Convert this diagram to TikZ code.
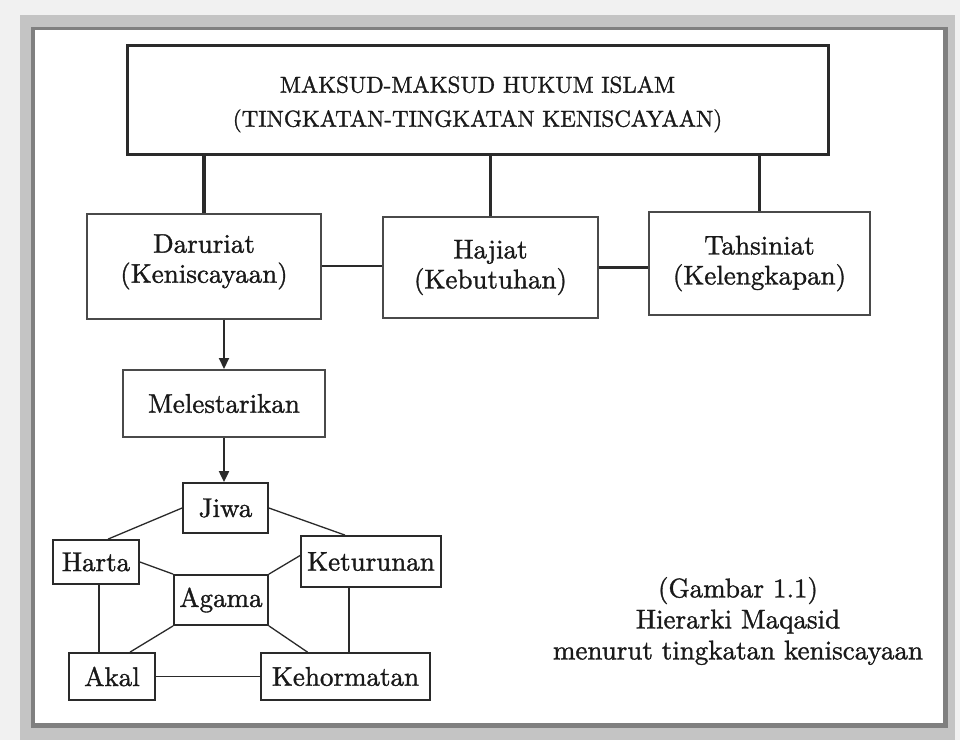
\documentclass[tikz,border=0pt]{standalone}
\usepackage{fontspec}
\usepackage{tikz}
\usetikzlibrary{arrows.meta}
\newfontfamily\hurufkotak{lmroman10-regular.otf}[FakeBold=1.2]
\definecolor{garis}{HTML}{2A2A2A}
\definecolor{bayangan}{HTML}{C4C4C4}
\definecolor{tepi}{HTML}{808080}
\definecolor{latar}{HTML}{F1F1F1}
\tikzstyle{judul}=[draw=garis, line width=3pt, minimum width=701pt, minimum height=109pt, align=center, text=black!90, font=\hurufkotak\fontsize{23}{34}\selectfont]
\tikzstyle{tingkat}=[draw=garis!85, line width=2pt, inner sep=0pt, align=center, text=black!90, font=\hurufkotak\fontsize{27}{30}\selectfont]
\tikzstyle{unsur}=[draw=garis, line width=1.8pt, inner sep=0pt, text=black!90, font=\hurufkotak\fontsize{27}{30}\selectfont]

\begin{document}
\begin{tikzpicture}[x=1pt,y=-1pt]
            % Bingkai
            \fill[latar] (0,0) rectangle (960,740);
            \fill[bayangan] (20,15) rectangle (955,740);
            \fill[tepi] (31,27) rectangle (948,728);
            \fill[white] (35,30) rectangle (943,723);
            \useasboundingbox (0,0) rectangle (960,740);
            % Kotak atas
            \node[judul] (maksud) at (477.5,99.5) {\rule{0pt}{26pt}MAKSUD-MAKSUD HUKUM ISLAM\\(TINGKATAN-TINGKATAN KENISCAYAAN)};
            \node[tingkat, minimum width=234pt, minimum height=105pt] (daruriat) at (204,266) {Daruriat\\(Keniscayaan)\rule[-15pt]{0pt}{15pt}};
            \node[tingkat, minimum width=215pt, minimum height=101pt] (hajiat) at (490.5,267.5) {Hajiat\\(Kebutuhan)};
            \node[tingkat, minimum width=221pt, minimum height=103pt] (tahsiniat) at (759.5,263.5) {Tahsiniat\\(Kelengkapan)};
            \node[tingkat, minimum width=202pt, minimum height=67pt] (melestarikan) at (224,403.5) {Melestarikan};
            % Kotak bawah
            \node[unsur, minimum width=85pt, minimum height=50pt] (jiwa) at (225.5,508) {Jiwa};
            \node[unsur, minimum width=86pt, minimum height=44pt] (harta) at (96,562) {Harta};
            \node[unsur, minimum width=140pt, minimum height=51pt] (keturunan) at (371,561.5) {Keturunan};
            \node[unsur, minimum width=94pt, minimum height=50pt] (agama) at (221,600) {Agama};
            \node[unsur, minimum width=86pt, minimum height=47pt] (akal) at (112,676.5) {Akal};
            \node[unsur, minimum width=169pt, minimum height=47pt] (kehormatan) at (345.5,676.5) {Kehormatan};
            % Keterangan
            \node[align=center, text=black!90, font=\hurufkotak\fontsize{27}{31}\selectfont] (gambar) at (738,621) {(Gambar 1.1)\\Hierarki Maqasid\\menurut tingkatan keniscayaan};
            % Garis
            \draw[garis, line width=3.5pt] (maksud.south -| daruriat) -- (daruriat.north);
            \draw[garis, line width=3.5pt] (maksud.south -| hajiat) -- (hajiat.north);
            \draw[garis, line width=3.5pt] (maksud.south -| tahsiniat) -- (tahsiniat.north);
            \draw[garis, line width=2.5pt] (daruriat.east) -- (daruriat.east -| hajiat.west);
            \draw[garis, line width=2.5pt] (hajiat.east) -- (hajiat.east -| tahsiniat.west);
            \draw[garis, line width=2pt, -{Triangle[length=11pt,width=10pt]}] (melestarikan.north |- daruriat.south) -- (melestarikan.north);
            \draw[garis, line width=2pt, -{Triangle[length=11pt,width=10pt]}] (melestarikan.south) -- (melestarikan.south |- jiwa.north);
            \draw[garis, line width=1.3pt] (jiwa.west) -- ([xshift=12pt]harta.north);
            \draw[garis, line width=1.3pt] (jiwa.east) -- ([xshift=-26pt]keturunan.north);
            \draw[garis, line width=1.3pt] (harta.east) -- (agama.north west);
            \draw[garis, line width=1.3pt] ([yshift=6pt]keturunan.west) -- (agama.north east);
            \draw[garis, line width=1.3pt] ([xshift=3pt]harta.south) -- ([xshift=3pt]harta.south |- akal.north);
            \draw[garis, line width=1.3pt] (agama.south west) -- ([xshift=18pt]akal.north);
            \draw[garis, line width=1.3pt] (agama.south east) -- ([xshift=-38pt]kehormatan.north);
            \draw[garis, line width=1.3pt] ([xshift=-22pt]keturunan.south) -- ([xshift=-22pt]keturunan.south |- kehormatan.north);
            \draw[garis, line width=1.3pt] (akal.east) -- (kehormatan.west);
\end{tikzpicture}
\end{document}
